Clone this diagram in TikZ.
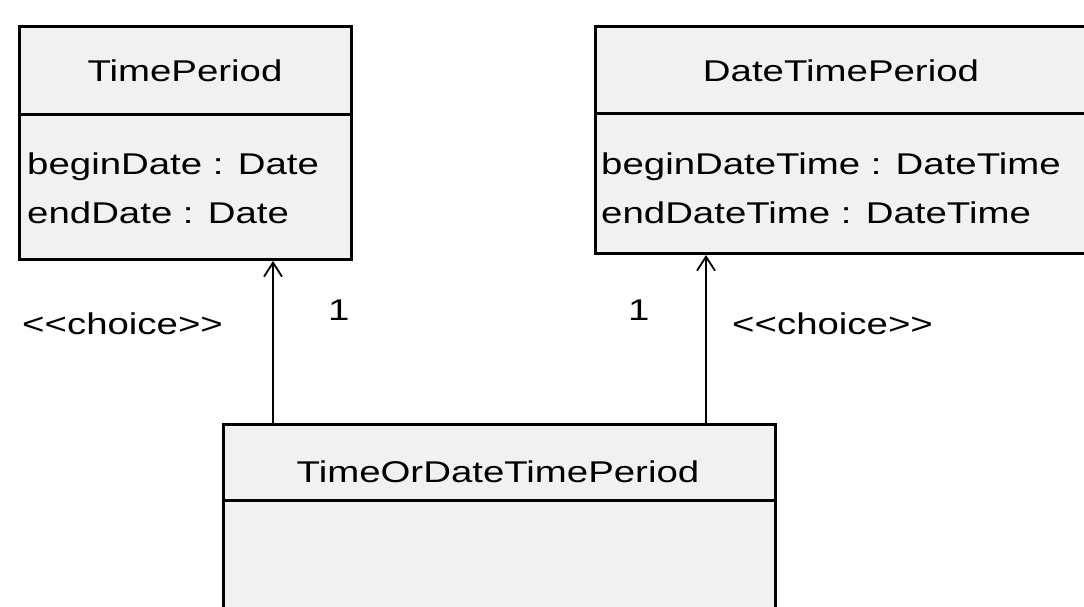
\documentclass[tikz,border=0pt]{standalone}
\usepackage{fontspec}
\setmainfont[FakeStretch=1.28,Ligatures=NoCommon]{Liberation Sans}
\usetikzlibrary{arrows.meta}
\definecolor{boxfill}{HTML}{F1F1F1}
\tikzset{
  classbox/.style={draw=black, fill=boxfill, line width=3pt, inner sep=0pt, anchor=north west},
  divider/.style={line width=3pt},
  txt/.style={inner sep=0pt, font=\fontsize{30}{48}\selectfont},
  assoc/.style={line width=1.8pt, -{Straight Barb[length=14pt,width=18pt,line width=1.8pt]}}
}
\begin{document}
\begin{tikzpicture}[x=1pt,y=-1pt]
\useasboundingbox (0,0) rectangle (1084,607);
\clip (0,0) rectangle (1084,607);
\fill[white] (0,0) rectangle (1084,607);
% boxes
\node[classbox, minimum width=332pt, minimum height=233pt] (tp) at (18,25) {};
\node[classbox, minimum width=520pt, minimum height=227pt] (dtp) at (594,25) {};
\node[classbox, minimum width=552pt, minimum height=220pt] (todtp) at (222,423) {};
% dividers
\coordinate (d1) at (0,115);
\coordinate (d2) at (0,114);
\coordinate (d3) at (0,500);
\draw[divider] (tp.west |- d1) -- (tp.east |- d1);
\draw[divider] (dtp.west |- d2) -- (dtp.east |- d2);
\draw[divider] (todtp.west |- d3) -- (todtp.east |- d3);
% titles
\node[txt, anchor=base] (tpname) at (185,82) {TimePeriod};
\node[txt, anchor=base] (dtpname) at (841,82) {DateTimePeriod};
\node[txt, anchor=base] (todtpname) at (498,482) {TimeOrDateTimePeriod};
% attributes
\node[txt, anchor=base west] (tpa1) at (27,175) {beginDate : Date};
\node[txt, anchor=base west] (tpa2) at (27,223) {endDate : Date};
\node[txt, anchor=base west] (dtpa1) at (601,175) {beginDateTime : DateTime};
\node[txt, anchor=base west] (dtpa2) at (601,223) {endDateTime : DateTime};
% connectors
\coordinate (la) at (273,0);
\coordinate (ra) at (706,0);
\draw[assoc] (todtp.north -| la) -- (tp.south -| la);
\draw[assoc] (todtp.north -| ra) -- (dtp.south -| ra);
% labels
\node[txt, anchor=base west] (ch1) at (22,334) {<{}<choice>{}>};
\node[txt, anchor=base west] (m1) at (328,320) {1};
\node[txt, anchor=base west] (m2) at (628,320) {1};
\node[txt, anchor=base west] (ch2) at (732,334) {<{}<choice>{}>};
\end{tikzpicture}
\end{document}
